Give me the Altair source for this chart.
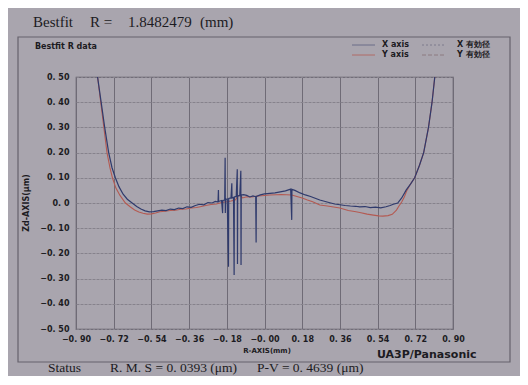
import altair as alt
import pandas as pd

# ---- data ----
# X-axis trace (dark blue): R (mm) and Zd (um), spikes included as measured
x_axis_r = [-0.797, -0.780, -0.763, -0.744, -0.728, -0.712, -0.695, -0.675, -0.655, -0.632,
            -0.610, -0.590, -0.570, -0.550, -0.530, -0.510, -0.490, -0.470, -0.450, -0.430,
            -0.410, -0.390, -0.370, -0.350, -0.330, -0.310, -0.290, -0.270, -0.250, -0.235,
            -0.222, -0.220, -0.219, -0.205, -0.200, -0.199, -0.190, -0.188, -0.187, -0.186,
            -0.178, -0.172, -0.171, -0.160, -0.156, -0.155, -0.148, -0.145, -0.144, -0.135,
            -0.130, -0.129, -0.128, -0.118, -0.113, -0.112, -0.111, -0.100, -0.085, -0.070,
            -0.055, -0.042, -0.040, -0.039, -0.020, 0.000, 0.026, 0.050, 0.075, 0.100,
            0.125, 0.130, 0.131, 0.145, 0.170, 0.195, 0.220, 0.245, 0.264, 0.290,
            0.312, 0.335, 0.360, 0.385, 0.410, 0.435, 0.455, 0.480, 0.505, 0.530,
            0.555, 0.580, 0.600, 0.615, 0.636, 0.655, 0.677, 0.697, 0.717, 0.740,
            0.760, 0.783, 0.800, 0.813]
x_axis_z = [0.500, 0.400, 0.300, 0.200, 0.140, 0.100, 0.065, 0.035, 0.015, 0.000,
            -0.014, -0.024, -0.031, -0.035, -0.034, -0.031, -0.028, -0.030, -0.024, -0.026,
            -0.020, -0.022, -0.015, -0.017, -0.010, -0.005, -0.007, 0.002, 0.000, 0.006,
            0.004, 0.052, 0.006, 0.010, -0.040, 0.010, 0.012, 0.180, -0.040, 0.014,
            0.016, -0.253, 0.018, 0.020, 0.078, 0.020, 0.022, -0.286, 0.024, 0.026,
            0.134, -0.242, 0.028, 0.030, 0.128, -0.246, 0.032, 0.033, 0.030, 0.024,
            0.028, 0.025, -0.157, 0.026, 0.032, 0.036, 0.038, 0.040, 0.044, 0.048,
            0.055, -0.067, 0.054, 0.050, 0.040, 0.032, 0.026, 0.018, 0.012, 0.006,
            0.001, -0.004, -0.007, -0.010, -0.012, -0.013, -0.015, -0.014, -0.018, -0.016,
            -0.019, -0.015, -0.010, -0.005, 0.000, 0.020, 0.052, 0.075, 0.100, 0.150,
            0.200, 0.300, 0.400, 0.500]

# Y-axis trace (red)
y_axis_r = [-0.797, -0.782, -0.767, -0.752, -0.738, -0.726, -0.710, -0.690, -0.664, -0.640,
            -0.620, -0.600, -0.580, -0.560, -0.540, -0.520, -0.500, -0.475, -0.450, -0.425,
            -0.400, -0.375, -0.350, -0.325, -0.307, -0.280, -0.255, -0.230, -0.205, -0.180,
            -0.160, -0.140, -0.125, -0.115, -0.105, -0.085, -0.060, -0.030, 0.000, 0.026,
            0.055, 0.080, 0.105, 0.130, 0.155, 0.180, 0.205, 0.230, 0.264, 0.300,
            0.330, 0.360, 0.400, 0.430, 0.455, 0.490, 0.520, 0.545, 0.565, 0.590,
            0.610, 0.630, 0.642, 0.655, 0.668, 0.680, 0.697, 0.717, 0.740, 0.760,
            0.783, 0.800, 0.813]
y_axis_z = [0.500, 0.400, 0.300, 0.200, 0.140, 0.100, 0.060, 0.030, 0.000, -0.016,
            -0.028, -0.036, -0.041, -0.044, -0.043, -0.040, -0.035, -0.033, -0.030, -0.029,
            -0.025, -0.024, -0.020, -0.018, -0.015, -0.010, -0.006, -0.004, 0.002, 0.005,
            0.008, 0.012, 0.028, 0.030, 0.020, 0.025, 0.024, 0.028, 0.030, 0.032,
            0.033, 0.034, 0.033, 0.032, 0.026, 0.020, 0.012, 0.005, -0.008, -0.012,
            -0.016, -0.020, -0.030, -0.034, -0.038, -0.044, -0.048, -0.051, -0.052, -0.050,
            -0.045, -0.028, -0.012, 0.004, 0.025, 0.050, 0.075, 0.100, 0.150, 0.200,
            0.300, 0.400, 0.500]

x_ticks = [-0.9, -0.72, -0.54, -0.36, -0.18, 0.0, 0.18, 0.36, 0.54, 0.72, 0.9]
y_ticks = [-0.5, -0.4, -0.3, -0.2, -0.1, 0.0, 0.1, 0.2, 0.3, 0.4, 0.5]

title_parts = ["Bestfit", "R =", "1.8482479", "(mm)"]
status_parts = ["Status", "R. M. S = 0. 0393 (μm)", "P-V = 0. 4639 (μm)"]
legend_labels = ["X axis", "Y axis", "X 有効径", "Y 有効径"]

BG = "#a9a5ae"
INK = "#1c1b22"
BLUE = "#2f3a6c"
RED = "#b45a52"
SANS = "DejaVu Sans"
SERIF = "Liberation Serif"

W, H = 377, 252

blue = pd.DataFrame({"r": x_axis_r, "z": x_axis_z, "o": range(len(x_axis_r))})
red = pd.DataFrame({"r": y_axis_r, "z": y_axis_z, "o": range(len(y_axis_r))})
one = pd.DataFrame({"k": [0]})

lab_y = "datum.value == 0 ? '0. 0' : replace(format(datum.value, '.2f'), '.', '. ')"
lab_x = "abs(datum.value) < 1e-9 ? '−0. 00' : replace(format(datum.value, '.2f'), '.', '. ')"

xs = alt.Scale(domain=[-0.9, 0.9], nice=False, zero=False)
ys = alt.Scale(domain=[-0.5, 0.5], nice=False, zero=False)

x_enc = alt.X("r:Q", scale=xs, axis=alt.Axis(
    values=x_ticks, tickCount=len(x_ticks), labelExpr=lab_x, title=None, grid=True,
    gridColor="#6f6b76", gridWidth=1, tickSize=0, domain=False, labelFont=SANS,
    labelFontWeight="bold", labelFontSize=8, labelColor=INK, labelPadding=6,
    labelFlush=False, labelOverlap=False))
y_enc = alt.Y("z:Q", scale=ys, axis=alt.Axis(
    values=y_ticks, tickCount=len(y_ticks), labelExpr=lab_y, title=None, grid=True,
    gridColor="#86828c", gridDash=[3, 1], gridWidth=1, tickSize=0, domain=False,
    labelFont=SANS, labelFontWeight="bold", labelFontSize=8, labelColor=INK,
    labelPadding=7, labelFlush=False, labelOverlap=False))

line_blue = alt.Chart(blue).mark_line(color=BLUE, strokeWidth=1.2, clip=True).encode(
    x=x_enc, y=y_enc, order="o:Q")
line_red = alt.Chart(red).mark_line(color=RED, strokeWidth=1.1, clip=True).encode(
    x=alt.X("r:Q", scale=xs), y=alt.Y("z:Q", scale=ys), order="o:Q")


def txt(s, x, y, size, font=SANS, weight="bold", align="left", angle=0):
    return alt.Chart(one).mark_text(
        text=s, font=font, fontSize=size, fontWeight=weight, align=align,
        baseline="middle", color=INK, angle=angle).encode(x=alt.value(x), y=alt.value(y))


def rule(x1, x2, y, color, dash=None):
    kw = dict(color=color, strokeWidth=1)
    if dash:
        kw["strokeDash"] = dash
    return alt.Chart(one).mark_rule(**kw).encode(
        x=alt.value(x1), x2=alt.value(x2), y=alt.value(y))


# outer frame
frame = alt.Chart(one).mark_rect(fill=None, stroke="#66626c", strokeWidth=1.2).encode(
    x=alt.value(-58), x2=alt.value(434), y=alt.value(-40), y2=alt.value(285))

texts = [
    txt(title_parts[0], -43, -55, 15, SERIF, "normal"),
    txt(title_parts[1], 14, -55, 15, SERIF, "normal"),
    txt(title_parts[2], 52, -55, 15, SERIF, "normal"),
    txt(title_parts[3], 124, -55, 15, SERIF, "normal"),
    txt("Bestfit R data", -41, -30, 8),
    txt("Zd-AXIS(μm)", -49, 126, 8, angle=270, align="center"),
    txt("R-AXIS(mm)", 191, 274, 7, align="center"),
    txt("UA3P/Panasonic", 301, 278, 11),
    txt(status_parts[0], -28, 291, 13.5, SERIF, "normal"),
    txt(status_parts[1], 34, 291, 13.5, SERIF, "normal"),
    txt(status_parts[2], 181, 291, 13.5, SERIF, "normal"),
    txt(legend_labels[0], 306, -32, 8),
    txt(legend_labels[1], 306, -22, 8),
    txt(legend_labels[2], 381, -32, 8),
    txt(legend_labels[3], 381, -22, 8),
]

legend_rules = [
    rule(276, 299, -32, "#6a6d88"),
    rule(276, 299, -22, "#b06a66"),
    rule(346, 369, -32, "#7d7a8c", [2, 2]),
    rule(346, 369, -22, "#8c7a80", [4, 2]),
]

chart = alt.layer(line_red, line_blue, frame, *legend_rules, *texts).properties(
    width=W, height=H,
    autosize=alt.AutoSizeParams(type="none"),
    padding={"left": 68, "top": 69, "right": 67, "bottom": 47},
).configure(background=BG).configure_view(stroke="#5f5b66", strokeWidth=1.2, fill=BG)

chart.save("out.html", embed_options={"renderer": "svg", "actions": False})
